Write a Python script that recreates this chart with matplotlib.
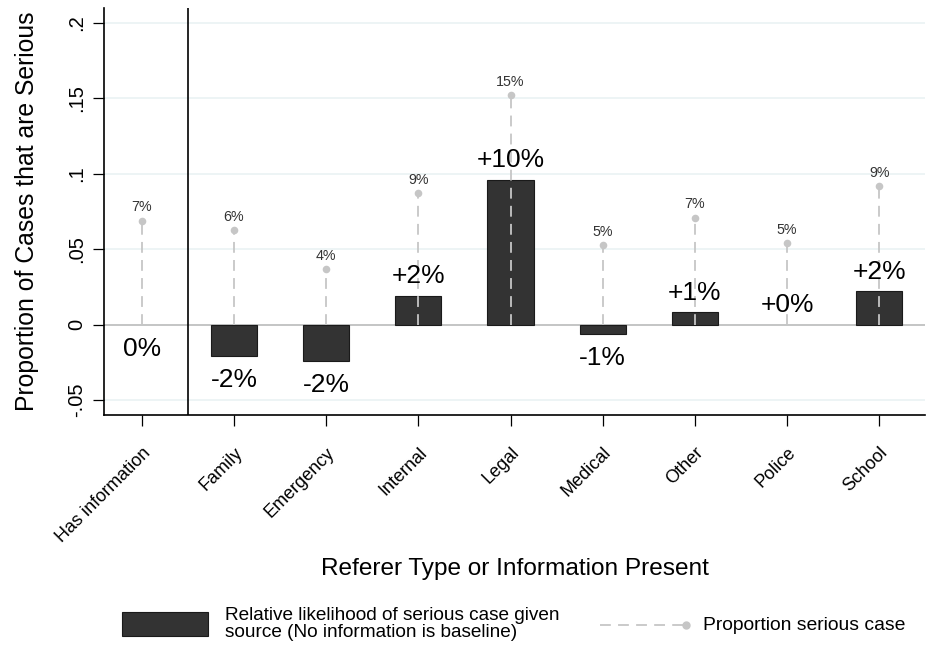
import matplotlib
matplotlib.use("Agg")
import matplotlib.pyplot as plt
from matplotlib.patches import Rectangle
from matplotlib.lines import Line2D
import numpy as np

plt.rcParams['font.family'] = ['Liberation Sans', 'DejaVu Sans']

categories = ['Has information', 'Family', 'Emergency', 'Internal', 'Legal',
              'Medical', 'Other', 'Police', 'School']
relative = [0.0, -0.021, -0.024, 0.019, 0.096, -0.006, 0.008, 0.0, 0.022]
relative_labels = ['0%', '-2%', '-2%', '+2%', '+10%', '-1%', '+1%', '+0%', '+2%']
proportion = [0.069, 0.063, 0.037, 0.087, 0.152, 0.053, 0.071, 0.054, 0.092]
proportion_labels = ['7%', '6%', '4%', '9%', '15%', '5%', '7%', '5%', '9%']
yticks = [-0.05, 0, 0.05, 0.1, 0.15, 0.2]
ytick_labels = ['-.05', '0', '.05', '.1', '.15', '.2']

bar_color = '#333333'
prop_color = '#c6c6c6'
grid_color = '#eaf2f3'

fig = plt.figure(figsize=(9.27, 6.48), dpi=100)
ax = fig.add_axes([0.1122, 0.3596, 0.886, 0.6281])

x = np.arange(len(categories))
rel = np.array(relative)

for yt in yticks:
    ax.axhline(yt, color=grid_color, lw=1.2, zorder=0)
ax.axhline(0, color='#bdbdbd', lw=1.2, zorder=1)

# bars (zero-height ones are not drawn)
nz = rel != 0
ax.bar(x[nz], rel[nz], width=0.5, color=bar_color, edgecolor='#1a1a1a',
       lw=0.8, zorder=2)

# proportion lines and dots
for xi, p in zip(x, proportion):
    ax.plot([xi, xi], [0, p], color=prop_color, lw=1.3, dashes=(6, 4), zorder=3)
ax.scatter(x, proportion, s=30, color=prop_color, zorder=4, lw=0)
for xi, p, lab in zip(x, proportion, proportion_labels):
    ax.text(xi, p + 0.004, lab, ha='center', va='bottom', fontsize=10.3,
            color='#333333', zorder=5)

for xi, r, lab in zip(x, relative, relative_labels):
    if lab.startswith('-') or xi == 0:
        ax.text(xi, r - 0.008, lab, ha='center', va='top', fontsize=19, zorder=5)
    else:
        ax.text(xi, r + 0.005, lab, ha='center', va='bottom', fontsize=19, zorder=5)

ax.axvline(0.5, color='black', lw=1.2, zorder=5)

ax.set_xlim(-0.41, 8.5)
ax.set_ylim(-0.06, 0.21)
ax.set_yticks(yticks)
ax.set_yticklabels(ytick_labels, rotation=90, va='center', fontsize=14.5)
ax.set_xticks(x)
ax.set_xticklabels(categories, rotation=45, ha='right', rotation_mode='anchor',
                   fontsize=13)
ax.tick_params(axis='both', length=8, width=0.9, color='black')
ax.tick_params(axis='x', pad=13)
ax.tick_params(axis='y', pad=5)

for side in ['top', 'right']:
    ax.spines[side].set_visible(False)
ax.spines['left'].set_linewidth(1.2)
ax.spines['bottom'].set_linewidth(1.2)

ax.set_ylabel('Proportion of Cases that are Serious', fontsize=17.8, labelpad=20)
fig.text(0.555, 0.122, 'Referer Type or Information Present', ha='center',
         va='center', fontsize=17.6)

# legend
fig.add_artist(Rectangle((122 / 927, 1 - 636 / 648), 86 / 927, 24 / 648,
                         transform=fig.transFigure, facecolor=bar_color,
                         edgecolor='#1a1a1a', lw=0.8))
fig.text(225 / 927, 1 - 624 / 648,
         'Relative likelihood of serious case given\nsource (No information is baseline)',
         ha='left', va='center', fontsize=13.7, linespacing=1.05)
fig.add_artist(Line2D([600 / 927, 686 / 927], [1 - 625 / 648, 1 - 625 / 648],
                      transform=fig.transFigure, color=prop_color, lw=1.3,
                      dashes=(6, 4)))
fig.add_artist(Line2D([686 / 927], [1 - 625 / 648], transform=fig.transFigure,
                      color=prop_color, marker='o', markersize=5, lw=0))
fig.text(703 / 927, 1 - 625 / 648, 'Proportion serious case', ha='left',
         va='center', fontsize=13.9)

fig.savefig('out.png', dpi=100)
